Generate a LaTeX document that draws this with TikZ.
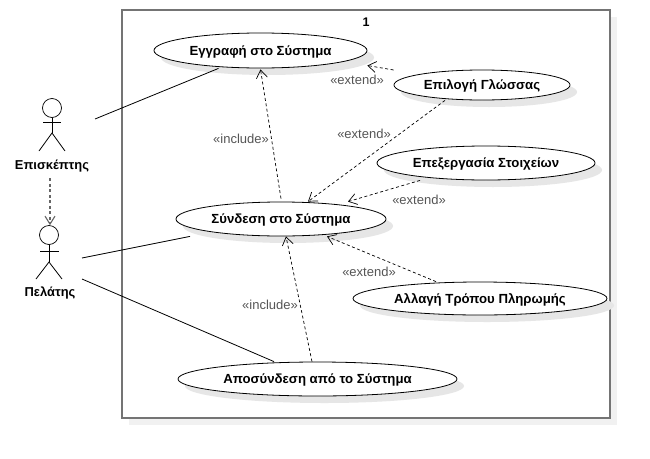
\documentclass[tikz,border=0pt]{standalone}
\usepackage{fontspec}
\setmainfont{Liberation Sans}
\usetikzlibrary{arrows.meta,shapes.geometric}
\definecolor{frameGray}{HTML}{747474}
\definecolor{boxShade}{HTML}{F1F1F1}
\definecolor{ovalShade}{HTML}{E6E6E6}
\definecolor{noteGray}{HTML}{555555}
\definecolor{genGray}{HTML}{666666}
\tikzset{
  x=1pt,y=-1pt,
  usecase/.style={ellipse,draw=black,fill=white,line width=0.8pt,inner sep=0pt,text height=9.5pt,text depth=0pt,font=\fontsize{13.2}{15}\selectfont\bfseries},
  ovalshadow/.style={ellipse,fill=ovalShade,inner sep=0pt},
  assoc/.style={draw=black,line width=0.8pt},
  depend/.style={draw=black,line width=0.7pt,dash pattern=on 3pt off 2.5pt,-{Straight Barb[length=8pt,width=11pt]}},
  generalize/.style={draw=genGray,line width=1.1pt,dash pattern=on 3pt off 2.5pt,-{Straight Barb[length=8pt,width=10pt]}},
  stereo/.style={text=noteGray,font=\fontsize{13}{15}\selectfont,inner sep=1pt},
  actorlabel/.style={text height=9.5pt,text depth=0pt,font=\fontsize{12.9}{15}\selectfont\bfseries,inner sep=1pt},
  actorhead/.style={circle,draw=black,fill=white,line width=0.7pt,minimum size=19pt,inner sep=0pt},
  actorline/.style={draw=black,line width=0.8pt},
}
\newcommand{\usecaseoval}[6]{%
  \node[ovalshadow,minimum width=#4pt,minimum height=#5pt] at (#2+7,#3+7) {};
  \node[usecase,minimum width=#4pt,minimum height=#5pt] (#1) at (#2,#3) {#6};
}
\begin{document}
\begin{tikzpicture}
\useasboundingbox (0,0) rectangle (650,458);
% system boundary
\fill[boxShade] (129,17) rectangle (617,425);
\draw[draw=frameGray,fill=white,line width=1.6pt] (122,10) rectangle (610,418);
\node[inner sep=0pt,font=\fontsize{12.5}{14}\selectfont\bfseries] (sysnum) at (366,22) {1};
% use cases
\usecaseoval{reg}{260.5}{50.5}{213}{35}{Εγγραφή στο Σύστημα}
\usecaseoval{lang}{482}{85}{176}{30}{Επιλογή Γλώσσας}
\usecaseoval{data}{486}{163}{218}{34}{Επεξεργασία Στοιχείων}
\usecaseoval{conn}{281}{219}{210}{34}{Σύνδεση στο Σύστημα}
\usecaseoval{pay}{480}{298.5}{254}{33}{Αλλαγή Τρόπου Πληρωμής}
\usecaseoval{logout}{317.5}{379}{279}{34}{Αποσύνδεση από το Σύστημα}
% actors
\node[actorhead] (vishead) at (52,108) {};
\coordinate (visneck) at (52,133);
\draw[actorline] (vishead.south) -- (visneck);
\draw[actorline] (43,122) -- (61,122);
\draw[actorline] (39,151) -- (visneck) -- (65,151);
\node[actorlabel] (vislabel) at (52,164.5) {Επισκέπτης};
\node[actorhead] (custhead) at (49,235) {};
\coordinate (custneck) at (49,262);
\draw[actorline] (custhead.south) -- (custneck);
\draw[actorline] (40,251) -- (59,251);
\draw[actorline] (36,279) -- (custneck) -- (62,279);
\node[actorlabel] (custlabel) at (50,292) {Πελάτης};
% associations
\draw[assoc] ([xshift=43pt,yshift=-11pt]vishead.center) -- ([xshift=-42pt]reg.south);
\draw[assoc] ([xshift=33pt,yshift=-23pt]custhead.center) -- ([xshift=-91pt]conn.south);
\draw[assoc] ([xshift=33pt,yshift=-44pt]custhead.center) -- ([xshift=-43.5pt]logout.north);
% dependencies
\draw[generalize] ([xshift=-2pt,yshift=-8pt]vislabel.south) -- ([xshift=1pt]custhead.north);
\draw[depend] ([yshift=3pt]conn.north) -- ([yshift=-1pt]reg.south);
\draw[depend] ([xshift=-5.5pt]logout.north) -- ([xshift=5pt]conn.south);
\draw[depend] ([yshift=15pt]lang.west) -- ([yshift=-15pt]reg.east);
\draw[depend] ([xshift=-37pt]lang.south) -- ([xshift=27pt]conn.north);
\draw[depend] ([xshift=-66pt]data.south) -- ([xshift=67pt]conn.north);
\draw[depend] ([xshift=-44pt]pay.north) -- ([xshift=46pt]conn.south);
% stereotypes
\node[stereo] (st1) at (357,80) {«extend»};
\node[stereo] (st2) at (364,134) {«extend»};
\node[stereo] (st3) at (419,200) {«extend»};
\node[stereo] (st4) at (369,272) {«extend»};
\node[stereo] (st5) at (241,139) {«include»};
\node[stereo] (st6) at (270,305) {«include»};
\end{tikzpicture}
\end{document}
